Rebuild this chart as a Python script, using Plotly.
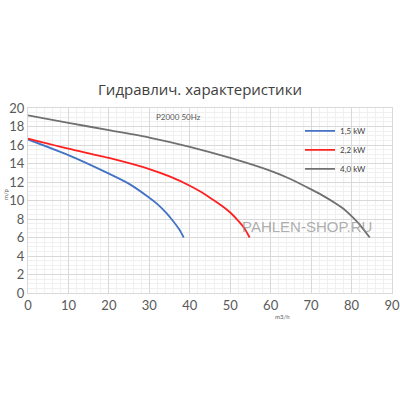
import plotly.graph_objects as go

flow_15 = [0, 10, 20, 25, 30, 32, 34.3, 36, 37.5, 38.5]
head_15 = [16.6, 14.9, 12.9, 11.8, 10.3, 9.6, 8.6, 7.7, 6.8, 6.0]
flow_22 = [0, 10, 20, 30, 35, 40, 42.5, 45, 48, 50, 52, 53.5, 54.8]
head_22 = [16.7, 15.6, 14.6, 13.4, 12.6, 11.6, 11.0, 10.3, 9.4, 8.7, 7.8, 7.0, 6.0]
flow_40 = [0, 10, 20, 30, 40, 50, 60, 65, 70, 73, 76, 78, 80, 82, 84.5]
head_40 = [19.2, 18.4, 17.6, 16.8, 15.8, 14.6, 13.2, 12.3, 11.2, 10.5, 9.7, 9.1, 8.3, 7.4, 6.0]
names = ["1,5 kW", "2,2 kW", "4,0 kW"]
colors = ["#4472C4", "#FF1F1F", "#707070"]

fig = go.Figure()
for fx, hy, nm, c in zip([flow_15, flow_22, flow_40], [head_15, head_22, head_40], names, colors):
    fig.add_trace(go.Scatter(x=fx, y=hy, name=nm, mode="lines",
                             line=dict(color=c, width=1.8, shape="spline", smoothing=0.6)))

L, T, R, B = 28, 108, 392, 293
W, H = R - L, B - T

fig.update_layout(
    width=400, height=400,
    margin=dict(l=L, r=400 - R, t=T, b=400 - B),
    paper_bgcolor="white", plot_bgcolor="white",
    font=dict(family="Lato, Open Sans, sans-serif", color="#595959"),
    title=dict(text="Гидравлич. характеристики", x=0.5, xanchor="center",
               y=1 - 90 / 400, yanchor="middle",
               font=dict(size=15, color="#404040", family="Open Sans, sans-serif")),
    legend=dict(x=(300 - L) / W, y=0.955, xanchor="left", yanchor="top",
                font=dict(size=8, color="#404040"), bgcolor="rgba(0,0,0,0)"),
    showlegend=True,
    xaxis=dict(range=[0, 90], dtick=10, showgrid=True, gridcolor="#d9d9d9",
               minor=dict(dtick=2, showgrid=True, gridcolor="#f0f0f0"),
               zeroline=False, showline=True, linecolor="#d9d9d9", mirror=True,
               tickfont=dict(size=13, color="#595959"), ticks="", automargin=False),
    yaxis=dict(range=[0, 20], dtick=2, showgrid=True, gridcolor="#d9d9d9",
               minor=dict(dtick=0.5, showgrid=True, gridcolor="#f0f0f0"),
               zeroline=False, showline=True, linecolor="#d9d9d9", mirror=True,
               tickfont=dict(size=13, color="#595959"), ticks="", automargin=False),
)
fig.add_annotation(text="P2000 50Hz", xref="paper", yref="paper",
                   x=(178 - L) / W, y=(B - 117) / H, xanchor="center", yanchor="middle",
                   showarrow=False, font=dict(size=8, color="#595959"))
fig.add_annotation(text="PAHLEN-SHOP.RU", xref="paper", yref="paper",
                   x=(307 - L) / W, y=(B - 226) / H, xanchor="center", yanchor="middle",
                   showarrow=False,
                   font=dict(size=15, color="rgba(140,140,140,0.7)", family="Liberation Sans, Arial"))
fig.add_annotation(text="m3/h", xref="paper", yref="paper",
                   x=(282 - L) / W, y=(B - 316) / H, xanchor="center", yanchor="middle",
                   showarrow=False, font=dict(size=6, color="#595959"))
fig.add_annotation(text="m/p", xref="paper", yref="paper", textangle=-90,
                   x=(5 - L) / W, y=(B - 195) / H, xanchor="center", yanchor="middle",
                   showarrow=False, font=dict(size=6, color="#595959"))
fig.write_html("out.html")
